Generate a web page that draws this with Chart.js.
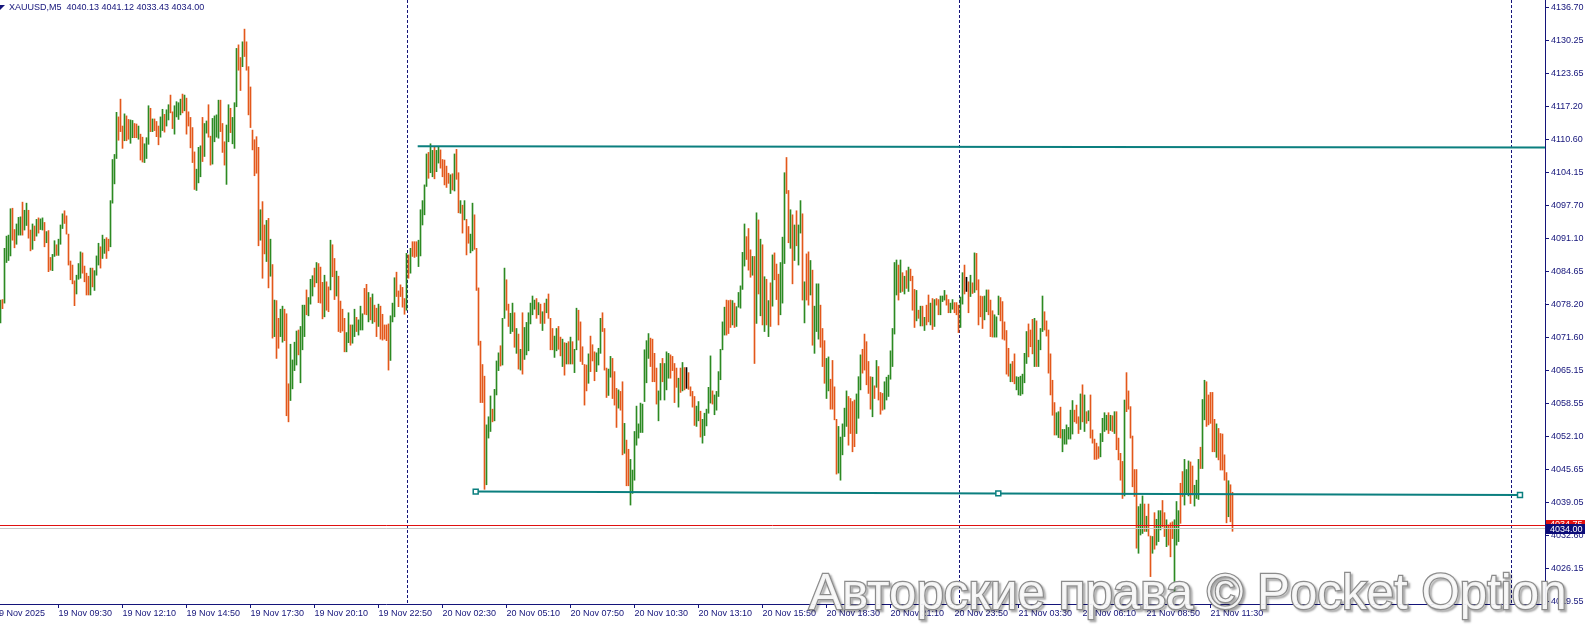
<html>
<head>
  <title>XAUUSD M5</title>
  <script src="https://cdn.jsdelivr.net/npm/chart.js"></script>
  <style>
    body { margin: 0; background: #fff; }
    canvas { display: block; }
  </style>
</head>
<body>
  <canvas id="priceChart" width="1585" height="627"></canvas>

  <script>
    // Symbol header (O H L C of the last bar)
    const symbol = 'XAUUSD,M5';
    const lastOHLC = [4040.13, 4041.12, 4033.43, 4034.00];

    // Bar highs and lows, 5 minute bars, oldest first
    const highs = [
      4079.0, 4079.1, 4089.2, 4091.6, 4091.8, 4097.0, 4097.1, 4092.9, 4094.0, 4095.3,
      4095.4, 4098.3, 4096.7, 4098.1, 4096.7, 4092.8, 4094.0, 4093.6, 4094.9, 4095.2,
      4095.0, 4095.2, 4094.3, 4092.5, 4092.7, 4087.4, 4088.0, 4090.7, 4089.9, 4091.0,
      4093.8, 4096.0, 4096.6, 4095.6, 4092.0, 4086.7, 4085.9, 4082.8, 4083.9, 4086.2,
      4088.5, 4088.3, 4085.7, 4084.3, 4083.7, 4085.3, 4085.3, 4084.8, 4087.7, 4090.2,
      4089.5, 4091.8, 4091.0, 4091.3, 4091.0, 4098.6, 4106.7, 4107.7, 4116.0, 4115.1,
      4118.6, 4113.3, 4115.7, 4115.3, 4114.6, 4114.5, 4114.4, 4113.8, 4113.7, 4113.3,
      4111.7, 4111.1, 4109.8, 4111.0, 4117.3, 4116.8, 4114.7, 4114.7, 4114.2, 4113.3,
      4115.1, 4116.6, 4115.6, 4116.5, 4117.5, 4119.4, 4116.1, 4117.3, 4118.1, 4117.9,
      4118.6, 4119.6, 4119.4, 4118.8, 4116.1, 4115.0, 4113.0, 4108.2, 4104.8, 4109.1,
      4109.4, 4115.0, 4113.8, 4114.3, 4117.5, 4111.3, 4114.8, 4115.3, 4115.5, 4118.4,
      4118.4, 4113.8, 4110.2, 4113.5, 4117.5, 4116.8, 4115.0, 4117.9, 4128.6, 4129.3,
      4126.8, 4129.9, 4132.4, 4129.9, 4125.0, 4121.0, 4112.5, 4110.6, 4111.2, 4109.1,
      4096.8, 4098.4, 4093.8, 4094.7, 4095.1, 4091.0, 4086.0, 4079.0, 4078.9, 4075.4,
      4077.2, 4077.8, 4077.2, 4076.3, 4062.5, 4070.3, 4067.2, 4070.7, 4072.9, 4073.1,
      4073.8, 4078.0, 4078.0, 4081.0, 4079.5, 4083.1, 4083.8, 4085.3, 4086.4, 4086.2,
      4085.5, 4082.5, 4083.9, 4082.6, 4081.6, 4090.8, 4089.9, 4087.2, 4084.7, 4083.7,
      4078.8, 4077.2, 4075.4, 4072.6, 4076.5, 4074.1, 4074.1, 4077.2, 4075.6, 4075.1,
      4077.8, 4076.3, 4081.3, 4082.1, 4080.5, 4079.5, 4080.2, 4078.0, 4077.4, 4078.2,
      4077.8, 4076.2, 4074.1, 4074.1, 4074.3, 4075.9, 4078.4, 4083.4, 4084.5, 4080.8,
      4082.0, 4081.5, 4079.3, 4088.2, 4087.9, 4089.2, 4090.5, 4090.5, 4090.5, 4090.8,
      4096.8, 4098.6, 4101.7, 4107.8, 4108.1, 4109.8, 4108.5, 4109.2, 4108.5, 4109.1,
      4108.6, 4106.7, 4106.6, 4105.4, 4104.0, 4103.7, 4103.9, 4107.8, 4108.7, 4104.1,
      4098.6, 4097.7, 4098.6, 4094.9, 4093.5, 4092.0, 4098.1, 4095.8, 4089.2, 4081.4,
      4070.9, 4066.3, 4064.0, 4054.4, 4056.0, 4060.1, 4057.5, 4061.4, 4067.0, 4068.6,
      4070.0, 4075.4, 4085.3, 4083.0, 4078.2, 4076.4, 4078.4, 4076.5, 4073.4, 4072.3,
      4069.3, 4076.5, 4073.6, 4074.6, 4076.5, 4078.4, 4079.8, 4079.0, 4079.3, 4078.5,
      4078.2, 4076.7, 4078.4, 4079.2, 4080.2, 4075.4, 4073.4, 4071.9, 4073.4, 4073.8,
      4071.7, 4071.3, 4070.6, 4070.5, 4070.8, 4071.7, 4070.8, 4069.3, 4077.4, 4077.0,
      4074.7, 4069.8, 4066.3, 4066.2, 4068.4, 4071.9, 4070.2, 4068.8, 4068.6, 4069.5,
      4075.4, 4076.5, 4073.4, 4065.6, 4065.4, 4067.9, 4067.5, 4064.9, 4061.6, 4061.3,
      4061.0, 4062.9, 4054.7, 4051.4, 4049.6, 4047.6, 4045.5, 4053.1, 4058.1, 4054.6,
      4058.7, 4058.5, 4069.2, 4071.0, 4072.4, 4071.5, 4071.3, 4068.5, 4065.6, 4061.1,
      4066.5, 4067.5, 4066.5, 4068.8, 4068.5, 4068.2, 4067.9, 4066.5, 4065.6, 4063.6,
      4065.6, 4066.7, 4065.7, 4065.7, 4064.7, 4061.9, 4061.0, 4060.0, 4058.1, 4059.0,
      4057.1, 4055.5, 4056.7, 4057.5, 4061.8, 4068.0, 4061.1, 4060.3, 4061.0, 4064.9,
      4069.3, 4074.7, 4077.6, 4079.0, 4078.9, 4079.0, 4078.9, 4078.4, 4077.7, 4080.5,
      4081.8, 4088.4, 4094.0, 4091.5, 4093.1, 4088.9, 4087.6, 4087.6, 4096.2, 4094.8,
      4091.0, 4089.9, 4083.6, 4083.1, 4078.9, 4082.4, 4087.9, 4088.3, 4086.1, 4084.1,
      4086.4, 4091.4, 4104.1, 4107.1, 4100.6, 4096.8, 4095.8, 4093.8, 4096.6, 4093.8,
      4098.6, 4096.0, 4082.6, 4088.1, 4088.5, 4086.8, 4084.9, 4077.8, 4082.2, 4082.2,
      4078.0, 4073.4, 4071.0, 4067.5, 4067.8, 4063.4, 4067.1, 4061.9, 4055.5, 4054.1,
      4052.0, 4054.6, 4057.7, 4061.1, 4060.0, 4059.6, 4059.0, 4059.3, 4060.5, 4063.9,
      4068.2, 4069.3, 4072.3, 4070.8, 4066.9, 4063.9, 4063.8, 4062.1, 4067.1, 4065.9,
      4060.8, 4060.6, 4062.9, 4063.8, 4064.2, 4069.0, 4073.4, 4086.4, 4086.9, 4085.9,
      4086.9, 4084.4, 4083.7, 4084.8, 4085.5, 4085.1, 4083.7, 4081.1, 4080.9, 4077.0,
      4077.8, 4077.8, 4075.6, 4078.0, 4080.0, 4078.4, 4079.3, 4079.1, 4079.3, 4079.1,
      4079.8, 4079.8, 4080.9, 4080.0, 4079.1, 4078.4, 4079.1, 4078.5, 4078.5, 4078.0,
      4079.6, 4084.4, 4085.9, 4083.5, 4082.6, 4083.9, 4082.4, 4088.3, 4088.2, 4083.0,
      4079.8, 4079.7, 4079.8, 4081.0, 4081.0, 4079.0, 4076.9, 4076.1, 4075.7, 4079.8,
      4079.5, 4078.7, 4074.7, 4073.0, 4069.5, 4066.4, 4066.9, 4068.4, 4063.9, 4063.8,
      4064.0, 4064.4, 4068.5, 4072.8, 4074.3, 4073.1, 4075.2, 4075.4, 4074.9, 4071.1,
      4073.4, 4079.8, 4076.7, 4074.9, 4073.1, 4068.4, 4063.2, 4058.8, 4056.8, 4057.0,
      4057.9, 4053.5, 4053.5, 4054.4, 4053.9, 4057.3, 4059.2, 4057.3, 4058.3, 4056.0,
      4060.5, 4062.3, 4060.3, 4057.0, 4057.2, 4060.3, 4053.4, 4051.6, 4050.8, 4050.1,
      4052.7, 4055.7, 4056.8, 4056.3, 4056.8, 4056.3, 4056.2, 4057.0, 4057.0, 4051.8,
      4048.8, 4047.2, 4059.3, 4064.7, 4061.1, 4058.0, 4052.2, 4045.6, 4045.6, 4038.3,
      4038.8, 4040.4, 4038.8, 4036.4, 4038.8, 4032.5, 4032.4, 4037.1, 4035.8, 4037.5,
      4037.5, 4039.5, 4037.1, 4035.7, 4034.7, 4035.1, 4035.3, 4035.7, 4039.3, 4037.5,
      4042.9, 4045.2, 4047.6, 4045.6, 4047.3, 4047.1, 4046.3, 4042.5, 4043.5, 4047.6,
      4050.0, 4059.4, 4063.2, 4062.9, 4060.3, 4060.8, 4060.8, 4055.5, 4054.6, 4053.7,
      4052.7, 4052.6, 4048.5, 4045.0, 4043.4, 4042.6, 4041.12
    ];
    const lows = [
      4074.5, 4077.3, 4078.4, 4086.4, 4086.8, 4087.7, 4090.8, 4089.3, 4090.0, 4091.8,
      4091.8, 4091.8, 4092.8, 4093.7, 4091.2, 4088.7, 4089.0, 4090.7, 4091.6, 4092.2,
      4092.9, 4092.8, 4089.5, 4090.3, 4084.6, 4084.9, 4084.8, 4087.6, 4087.8, 4087.8,
      4090.0, 4093.1, 4094.1, 4092.0, 4085.9, 4083.0, 4082.2, 4077.9, 4080.2, 4083.1,
      4083.3, 4084.3, 4082.6, 4080.0, 4080.0, 4080.0, 4081.6, 4080.9, 4083.9, 4085.9,
      4085.3, 4087.2, 4088.2, 4087.2, 4088.7, 4089.5, 4098.1, 4101.9, 4106.9, 4110.5,
      4112.2, 4108.9, 4110.4, 4110.4, 4110.7, 4109.9, 4111.0, 4111.0, 4111.0, 4110.7,
      4106.6, 4106.2, 4106.1, 4106.9, 4109.7, 4112.2, 4112.2, 4112.4, 4111.2, 4109.6,
      4111.1, 4112.4, 4112.1, 4113.3, 4114.5, 4115.9, 4112.8, 4111.7, 4115.1, 4114.6,
      4115.5, 4115.9, 4116.3, 4111.7, 4113.3, 4109.0, 4106.1, 4100.8, 4100.6, 4102.1,
      4103.3, 4106.3, 4107.3, 4111.9, 4111.1, 4105.6, 4105.8, 4110.2, 4111.1, 4110.9,
      4112.2, 4108.1, 4105.6, 4101.8, 4110.2, 4112.0, 4109.8, 4108.9, 4117.1, 4124.3,
      4120.3, 4125.0, 4127.0, 4124.3, 4115.5, 4113.0, 4108.6, 4103.5, 4104.0, 4089.7,
      4090.8, 4083.3, 4088.1, 4086.6, 4081.4, 4083.7, 4071.5, 4071.8, 4067.5, 4069.5,
      4071.8, 4070.7, 4071.0, 4056.2, 4055.0, 4059.2, 4061.5, 4065.1, 4066.2, 4068.2,
      4062.7, 4069.2, 4071.8, 4076.1, 4075.9, 4078.2, 4079.8, 4081.6, 4082.4, 4078.5,
      4078.4, 4075.3, 4075.7, 4077.0, 4076.7, 4081.0, 4083.6, 4079.1, 4079.8, 4072.8,
      4072.6, 4072.9, 4068.8, 4068.8, 4070.6, 4070.1, 4070.5, 4071.8, 4072.8, 4072.1,
      4073.1, 4073.1, 4076.2, 4076.1, 4074.7, 4075.1, 4074.4, 4074.7, 4071.8, 4073.8,
      4071.3, 4071.1, 4071.3, 4071.0, 4065.2, 4067.1, 4074.7, 4075.7, 4079.7, 4077.7,
      4079.7, 4077.6, 4076.2, 4077.0, 4083.3, 4084.3, 4087.6, 4087.4, 4087.6, 4085.6,
      4087.7, 4093.8, 4095.8, 4101.4, 4103.0, 4104.1, 4103.3, 4102.9, 4104.3, 4106.0,
      4105.0, 4103.3, 4101.7, 4101.2, 4102.0, 4100.0, 4100.7, 4100.5, 4102.8, 4096.2,
      4096.1, 4092.2, 4094.8, 4087.9, 4090.2, 4088.3, 4088.7, 4089.0, 4080.9, 4070.1,
      4058.8, 4058.8, 4041.7, 4042.6, 4051.8, 4053.1, 4055.0, 4055.2, 4060.3, 4065.1,
      4066.0, 4066.2, 4075.4, 4077.0, 4073.8, 4072.4, 4072.8, 4069.7, 4068.5, 4065.4,
      4065.2, 4064.4, 4067.3, 4068.2, 4069.0, 4074.3, 4076.1, 4077.2, 4075.4, 4076.1,
      4074.4, 4073.0, 4074.4, 4076.5, 4075.4, 4069.2, 4069.2, 4067.7, 4069.0, 4069.3,
      4068.0, 4065.9, 4064.2, 4066.4, 4066.4, 4066.4, 4066.4, 4064.7, 4069.2, 4071.1,
      4066.9, 4066.3, 4058.3, 4061.1, 4062.6, 4064.9, 4067.0, 4063.1, 4064.9, 4066.2,
      4068.5, 4072.8, 4065.2, 4059.8, 4060.2, 4063.8, 4059.6, 4058.3, 4053.9, 4057.7,
      4057.3, 4048.5, 4048.8, 4042.4, 4042.4, 4038.6, 4040.9, 4043.5, 4050.4, 4051.8,
      4052.9, 4052.9, 4059.0, 4062.7, 4067.5, 4065.9, 4062.9, 4062.9, 4058.5, 4055.2,
      4059.3, 4062.9, 4059.3, 4061.3, 4063.6, 4063.6, 4065.1, 4058.8, 4061.8, 4057.9,
      4060.8, 4061.1, 4061.3, 4061.6, 4061.4, 4060.1, 4057.9, 4054.3, 4054.1, 4055.2,
      4052.0, 4050.8, 4052.3, 4054.2, 4056.7, 4058.7, 4058.5, 4056.4, 4057.3, 4060.0,
      4063.3, 4069.2, 4072.1, 4072.1, 4072.4, 4073.6, 4074.1, 4073.6, 4073.8, 4077.6,
      4077.4, 4081.1, 4085.7, 4087.0, 4084.9, 4083.5, 4083.9, 4066.5, 4074.4, 4080.2,
      4075.9, 4074.1, 4072.8, 4074.1, 4071.8, 4073.8, 4077.8, 4083.0, 4079.1, 4074.1,
      4076.1, 4078.4, 4086.2, 4100.0, 4090.3, 4089.2, 4082.2, 4086.8, 4089.7, 4085.9,
      4092.2, 4079.0, 4074.5, 4079.0, 4078.0, 4080.0, 4070.1, 4068.5, 4072.8, 4071.3,
      4069.7, 4065.9, 4062.6, 4059.6, 4061.1, 4057.5, 4057.5, 4055.4, 4044.7, 4044.9,
      4043.5, 4048.5, 4052.1, 4054.1, 4050.4, 4052.7, 4049.1, 4050.1, 4052.7, 4055.7,
      4061.3, 4064.6, 4065.2, 4062.3, 4060.6, 4057.5, 4056.0, 4059.6, 4061.8, 4059.3,
      4056.5, 4057.3, 4057.5, 4059.3, 4060.0, 4063.4, 4065.9, 4072.3, 4080.0, 4079.0,
      4080.5, 4080.7, 4080.2, 4081.3, 4080.7, 4082.8, 4077.0, 4073.6, 4074.9, 4075.4,
      4073.9, 4073.9, 4073.0, 4074.1, 4074.7, 4074.1, 4073.2, 4073.8, 4078.0, 4076.1,
      4076.1, 4078.7, 4079.0, 4078.0, 4076.5, 4076.5, 4077.2, 4076.5, 4076.1, 4072.6,
      4073.6, 4078.2, 4080.2, 4080.7, 4076.5, 4079.7, 4080.3, 4080.5, 4081.0, 4074.1,
      4075.7, 4073.4, 4075.1, 4076.7, 4076.1, 4071.8, 4071.7, 4071.7, 4071.7, 4076.1,
      4074.9, 4071.3, 4071.1, 4064.4, 4064.0, 4062.9, 4062.9, 4062.5, 4061.3, 4060.3,
      4060.2, 4060.5, 4062.7, 4066.5, 4067.8, 4069.8, 4068.4, 4065.9, 4065.9, 4065.9,
      4069.2, 4072.8, 4073.1, 4071.9, 4064.6, 4060.3, 4056.3, 4052.4, 4052.4, 4051.9,
      4051.8, 4049.1, 4050.6, 4050.6, 4051.6, 4051.6, 4052.6, 4055.0, 4054.7, 4052.7,
      4053.5, 4055.0, 4053.1, 4054.7, 4055.2, 4051.8, 4050.8, 4047.6, 4047.6, 4047.8,
      4048.1, 4051.1, 4053.1, 4053.4, 4052.7, 4053.3, 4053.1, 4052.7, 4049.5, 4047.5,
      4043.5, 4039.9, 4040.4, 4057.0, 4057.5, 4051.8, 4042.2, 4040.3, 4030.1, 4029.1,
      4032.7, 4033.0, 4033.4, 4033.4, 4032.5, 4024.5, 4029.1, 4029.9, 4030.7, 4031.4,
      4033.7, 4034.3, 4032.4, 4030.4, 4030.7, 4028.4, 4032.0, 4020.5, 4030.7, 4031.4,
      4035.0, 4040.3, 4038.6, 4040.9, 4040.4, 4038.9, 4040.6, 4038.4, 4039.9, 4039.7,
      4045.8, 4045.8, 4055.4, 4054.1, 4054.4, 4054.7, 4049.1, 4049.1, 4048.0, 4047.5,
      4045.5, 4045.5, 4043.5, 4035.1, 4036.3, 4035.3, 4033.43
    ];
    // g = up bar, o = down bar, k = unchanged
    const dirs = [
      'goggggoogg', 'goggoogogo', 'ggogooggog', 'ggoooooogg', 'goooogoggg',
      'oggooggggo', 'oogooggoog', 'oogggogooo', 'ggoggooggg', 'gogooooogg',
      'goggoogggg', 'oooggogggo', 'ogoooooooo', 'googogogoo', 'ggoooggggo',
      'gggogggogo', 'oogoogoogo', 'oooggoggog', 'ggoogogoog', 'ooooogggoo',
      'ooogogooog', 'ggggoggogg', 'ooooogogoo', 'gogooggooo', 'ooogggoggg',
      'oggooggogo', 'goggggggog', 'ogogoooggo', 'ogogogoggo', 'oooogooogg',
      'goooggooog', 'oogooggggg', 'gggggoooog', 'gogggoooog', 'ogokoooogg',
      'ogggggoggg', 'gggooogogg', 'gggooogogo', 'gogogogooo', 'gggoogogog',
      'gogoogoggg', 'oooggoooog', 'ggggoooogg', 'gooooogogo', 'oogggggggo',
      'gogogooogo', 'gogoogogoo', 'gggooggooo', 'ggokogogoo', 'ooggoooggg',
      'ooooogoogg', 'ggggooogog', 'ggoooooogg', 'oggggggooo', 'gogogooooo',
      'ggggogogoo', 'oogoooooog', 'ggogoogogg', 'googoooggg', 'oogggooggg',
      'oggooooogo', 'oooogoo'
    ].join('');

    // Time axis: bar index of each label, and the label text
    const xTickBars = [-3.3, 29, 61, 93, 125, 157, 189, 221, 253, 285, 317,
      349, 381, 413, 445, 477, 509, 541, 573, 605];
    const xTickLabels = ['19 Nov 2025', '19 Nov 09:30', '19 Nov 12:10', '19 Nov 14:50',
      '19 Nov 17:30', '19 Nov 20:10', '19 Nov 22:50', '20 Nov 02:30', '20 Nov 05:10',
      '20 Nov 07:50', '20 Nov 10:30', '20 Nov 13:10', '20 Nov 15:50', '20 Nov 18:30',
      '20 Nov 21:10', '20 Nov 23:50', '21 Nov 03:30', '21 Nov 06:10', '21 Nov 08:50',
      '21 Nov 11:30'];
    // Price axis labels
    const yTicks = [4019.55, 4026.15, 4032.60, 4039.05, 4045.65, 4052.10, 4058.55,
      4065.15, 4071.60, 4078.20, 4084.65, 4091.10, 4097.70, 4104.15, 4110.60,
      4117.20, 4123.65, 4130.25, 4136.70];
    const priceMin = 4019.10;
    const priceMax = 4138.14;
    const barSlots = 772.5; // visible bar slots incl. empty space on the right

    // Session separators (bar index)
    const separators = [203, 479, 755];
    // Bid / ask
    const bidPrice = 4034.00;
    const askPrice = 4034.75;
    // Drawn trend lines: [bar, price]
    const resistance = [[208.6, 4109.3], [barSlots - 0.25, 4109.05]];
    const support = [[237.6, 4041.25], [498.9, 4040.9], [759.75, 4040.6]];

    const watermark = 'Авторские права © Pocket Option';

    if (highs.length !== lows.length || highs.length !== dirs.length) {
      throw new Error('data length mismatch ' + highs.length + ' ' + lows.length + ' ' + dirs.length);
    }

    const navy = '#14147a';
    const teal = '#0b7f7f';
    const colorMap = { g: '#2c8a22', o: '#e3581b', k: '#000000' };
    const font = '"Liberation Sans", Arial, sans-serif';

    const bars = highs.map((h, i) => ({ x: i, y: [lows[i], h] }));
    const barColors = dirs.split('').map(d => colorMap[d]);

    const overlay = {
      id: 'overlay',
      beforeDatasetsDraw(chart) {
        const { ctx, chartArea: a, scales: { x } } = chart;
        ctx.save();
        ctx.strokeStyle = navy;
        ctx.lineWidth = 1;
        ctx.setLineDash([3, 2]);
        separators.forEach(b => {
          const px = Math.round(x.getPixelForValue(b)) + 0.5;
          ctx.beginPath();
          ctx.moveTo(px, a.top);
          ctx.lineTo(px, a.bottom);
          ctx.stroke();
        });
        ctx.restore();
      },
      afterDatasetsDraw(chart) {
        const { ctx, chartArea: a, scales: { y } } = chart;
        ctx.save();
        const yb = Math.round(y.getPixelForValue(bidPrice)) + 0.5;
        const ya = Math.round(y.getPixelForValue(askPrice)) + 0.5;
        ctx.lineWidth = 1;
        ctx.strokeStyle = '#c8c8c8';
        ctx.beginPath(); ctx.moveTo(a.left, yb); ctx.lineTo(a.right, yb); ctx.stroke();
        ctx.strokeStyle = '#e01010';
        ctx.beginPath(); ctx.moveTo(a.left, ya); ctx.lineTo(a.right, ya); ctx.stroke();
        ctx.restore();
      },
      afterDraw(chart) {
        const { ctx, scales: { y } } = chart;
        ctx.save();

        // header
        ctx.fillStyle = navy;
        ctx.beginPath();
        ctx.moveTo(0, 5); ctx.lineTo(5, 5); ctx.lineTo(0, 10); ctx.closePath();
        ctx.fill();
        ctx.font = '9px ' + font;
        ctx.textBaseline = 'middle';
        ctx.fillText(symbol + '  ' + lastOHLC.map(v => v.toFixed(2)).join(' '), 9, 7.5);

        // ask / bid labels on the price axis
        const left = y.left + 1;
        const ya = y.getPixelForValue(askPrice);
        const yb = y.getPixelForValue(bidPrice);
        ctx.fillStyle = '#e01010';
        ctx.fillRect(left, Math.round(ya) - 5, 40, 10);
        ctx.fillStyle = '#fff';
        ctx.fillText(askPrice.toFixed(2), left + 4, ya);
        ctx.fillStyle = '#0c0c78';
        ctx.fillRect(left, Math.round(yb) - 4, 40, 10);
        ctx.fillStyle = '#fff';
        ctx.fillText(bidPrice.toFixed(2), left + 4, yb + 1);

        // watermark
        ctx.font = '50px ' + font;
        const w = ctx.measureText(watermark).width;
        const size = 50 * 758 / w;
        ctx.font = size + 'px ' + font;
        ctx.textBaseline = 'alphabetic';
        ctx.shadowColor = 'rgba(0,0,0,0.35)';
        ctx.shadowOffsetX = 2;
        ctx.shadowOffsetY = 2;
        ctx.shadowBlur = 2;
        ctx.lineWidth = 2.5;
        ctx.strokeStyle = '#8c8c8c';
        ctx.strokeText(watermark, 809, 609);
        ctx.shadowColor = 'transparent';
        ctx.fillStyle = 'rgba(255,255,255,0.9)';
        ctx.fillText(watermark, 809, 609);
        ctx.restore();
      }
    };

    new Chart(document.getElementById('priceChart'), {
      type: 'bar',
      data: {
        datasets: [
          {
            type: 'line',
            data: resistance.map(p => ({ x: p[0], y: p[1] })),
            borderColor: teal,
            borderWidth: 2,
            pointRadius: 0,
            order: 0
          },
          {
            type: 'line',
            data: support.map(p => ({ x: p[0], y: p[1] })),
            borderColor: teal,
            borderWidth: 2,
            pointStyle: 'rect',
            pointRadius: 3.5,
            pointBackgroundColor: '#ffffff',
            pointBorderColor: teal,
            pointBorderWidth: 1.5,
            order: 0
          },
          {
            type: 'bar',
            data: bars,
            backgroundColor: barColors,
            barThickness: 1,
            borderWidth: 0,
            order: 1
          }
        ]
      },
      options: {
        responsive: false,
        animation: false,
        devicePixelRatio: 1,
        layout: { padding: 0, autoPadding: false },
        plugins: { legend: { display: false }, tooltip: { enabled: false } },
        scales: {
          x: {
            type: 'linear',
            min: -0.25,
            max: barSlots - 0.25,
            offset: false,
            afterBuildTicks: s => { s.ticks = xTickBars.map(v => ({ value: v })); },
            afterFit: s => { s.height = 23; s.paddingLeft = 0; s.paddingRight = 0; },
            grid: { drawOnChartArea: false, drawTicks: true, tickLength: 4, color: navy, offset: false },
            border: { display: true, color: navy, width: 1 },
            ticks: {
              autoSkip: false,
              maxRotation: 0,
              minRotation: 0,
              align: 'start',
              padding: 0,
              color: navy,
              font: { family: font, size: 9 },
              callback: (v, i) => xTickLabels[i]
            }
          },
          y: {
            type: 'linear',
            position: 'right',
            min: priceMin,
            max: priceMax,
            afterBuildTicks: s => { s.ticks = yTicks.map(v => ({ value: v })); },
            afterFit: s => { s.width = 40; s.paddingTop = 0; s.paddingBottom = 0; },
            grid: { drawOnChartArea: false, drawTicks: true, tickLength: 4, color: navy },
            border: { display: true, color: navy, width: 1 },
            ticks: {
              padding: 2,
              color: navy,
              font: { family: font, size: 9 },
              callback: v => Number(v).toFixed(2)
            }
          }
        }
      },
      plugins: [overlay]
    });
  </script>
</body>
</html>
